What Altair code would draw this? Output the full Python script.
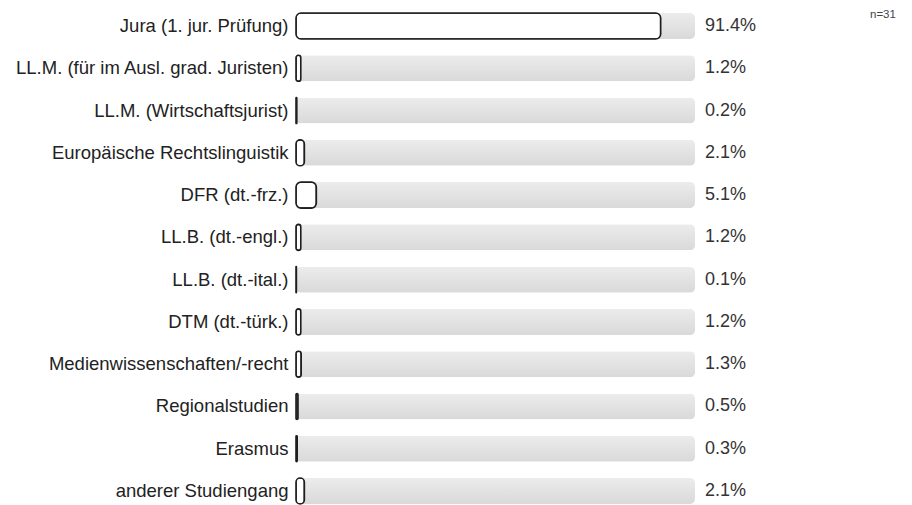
import altair as alt
import pandas as pd

categories = [
    "Jura (1. jur. Prüfung)",
    "LL.M. (für im Ausl. grad. Juristen)",
    "LL.M. (Wirtschaftsjurist)",
    "Europäische Rechtslinguistik",
    "DFR (dt.-frz.)",
    "LL.B. (dt.-engl.)",
    "LL.B. (dt.-ital.)",
    "DTM (dt.-türk.)",
    "Medienwissenschaften/-recht",
    "Regionalstudien",
    "Erasmus",
    "anderer Studiengang",
]
values = [91.4, 1.2, 0.2, 2.1, 5.1, 1.2, 0.1, 1.2, 1.3, 0.5, 0.3, 2.1]
labels = [f"{v:.1f}%" for v in values]
full = [100] * len(categories)
n_label = "n=31"

df = pd.DataFrame({"cat": categories, "value": values, "label": labels, "full": full})

FONT = "Liberation Sans"

y = alt.Y("cat:N", sort=categories, title=None,
          scale=alt.Scale(paddingInner=0.385, paddingOuter=0.095),
          axis=alt.Axis(domain=False, ticks=False, labelPadding=8, labelLimit=400,
                        labelFontSize=18.5, labelFont=FONT, labelColor="#222222"))
xscale = alt.Scale(domain=[0, 100], nice=False, zero=True)

grad = alt.Gradient(
    gradient="linear",
    stops=[alt.GradientStop(color="#ececec", offset=0),
           alt.GradientStop(color="#d9d9d9", offset=1)],
    x1=0, x2=0, y1=0, y2=1,
)

base = alt.Chart(df)

bg = base.mark_bar(cornerRadius=5, color=grad).encode(
    x=alt.X("full:Q", scale=xscale, axis=None), y=y
)

fg = base.mark_bar(cornerRadius=5, fill="white", stroke="#1e1e1e", strokeWidth=1.6).encode(
    x=alt.X("value:Q", scale=xscale, axis=None), y=y
)

txt = base.mark_text(align="left", baseline="middle", dx=10, fontSize=18,
                     font=FONT, color="#333333").encode(
    x=alt.datum(100), y=y, text="label:N"
)

ntxt = alt.Chart(pd.DataFrame({"t": [n_label]})).mark_text(
    align="left", baseline="top", fontSize=11.5, font=FONT, color="#444444"
).encode(x=alt.value(574), y=alt.value(0), text="t:N")

chart = alt.layer(bg, fg, txt, ntxt).properties(
    width=399, height=499,
    padding={"left": 288, "top": 1, "right": 209, "bottom": 0},
    autosize="none",
).configure_view(stroke=None)

chart.save("out.html", embed_options={"renderer": "svg", "actions": False})
